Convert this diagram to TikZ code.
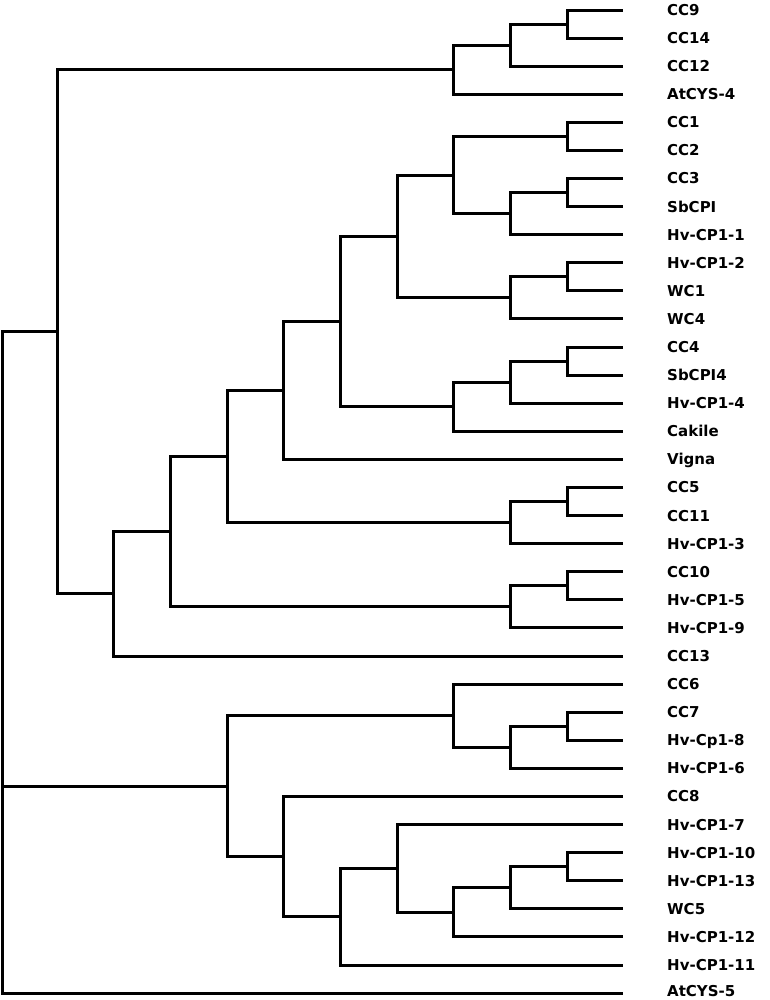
\documentclass[tikz,border=0pt]{standalone}
\usepackage{fontspec}
\setmainfont{DejaVu Sans}
\begin{document}
\begin{tikzpicture}[x=1pt,y=-28.09pt,
  branch/.style={line width=3pt,black},
  lab/.style={anchor=base west,inner sep=0pt,font=\fontsize{15}{17}\selectfont\bfseries,yshift=-5.4pt}]
\useasboundingbox (0,-0.356) rectangle (770,35.244);
% leaves
\foreach \i/\t in {0/CC9,1/CC14,2/CC12,3/AtCYS-4,4/CC1,5/CC2,6/CC3,7/SbCPI,8/Hv-CP1-1,
  9/Hv-CP1-2,10/WC1,11/WC4,12/CC4,13/SbCPI4,14/Hv-CP1-4,15/Cakile,16/Vigna,17/CC5,18/CC11,
  19/Hv-CP1-3,20/CC10,21/Hv-CP1-5,22/Hv-CP1-9,23/CC13,24/CC6,25/CC7,26/Hv-Cp1-8,27/Hv-CP1-6,
  28/CC8,29/Hv-CP1-7,30/Hv-CP1-10,31/Hv-CP1-13,32/WC5,33/Hv-CP1-12,34/Hv-CP1-11}{
  \coordinate (l\i) at (623,\i);
  \node[lab] (t\i) at (667,\i) {\t};
}
\coordinate (l35) at (623,35);
\node[lab,yshift=2.2pt] (t35) at (667,35) {AtCYS-5};
% internal nodes
\coordinate (a567) at (567,0.5);
\coordinate (a510) at (510,1.25);
\coordinate (a453) at (453,2.125);
\coordinate (b567) at (567,4.5);
\coordinate (c567) at (567,6.5);
\coordinate (c510) at (510,7.25);
\coordinate (b453) at (453,5.875);
\coordinate (d567) at (567,9.5);
\coordinate (d510) at (510,10.25);
\coordinate (e397) at (397,8.0625);
\coordinate (f567) at (567,12.5);
\coordinate (f510) at (510,13.25);
\coordinate (f453) at (453,14.125);
\coordinate (g340) at (340,11.09375);
\coordinate (h283) at (283,13.546875);
\coordinate (i567) at (567,17.5);
\coordinate (i510) at (510,18.25);
\coordinate (j227) at (227,15.8984);
\coordinate (k567) at (567,20.5);
\coordinate (k510) at (510,21.25);
\coordinate (m170) at (170,18.574);
\coordinate (n113) at (113,20.787);
\coordinate (p57) at (57,11.456);
\coordinate (q567) at (567,25.5);
\coordinate (q510) at (510,26.25);
\coordinate (q453) at (453,25.125);
\coordinate (r567) at (567,30.5);
\coordinate (r510) at (510,31.25);
\coordinate (r453) at (453,32.125);
\coordinate (r397) at (397,30.5625);
\coordinate (r340) at (340,32.28);
\coordinate (s283) at (283,30.14);
\coordinate (t227) at (227,27.63);
\coordinate (root) at (2.5,23.2);
% branches
\foreach \p/\c in {a567/l0,a567/l1,a510/a567,a510/l2,a453/a510,a453/l3,
  b567/l4,b567/l5,c567/l6,c567/l7,c510/c567,c510/l8,b453/b567,b453/c510,
  d567/l9,d567/l10,d510/d567,d510/l11,e397/b453,e397/d510,
  f567/l12,f567/l13,f510/f567,f510/l14,f453/f510,f453/l15,
  g340/e397,g340/f453,h283/g340,h283/l16,
  i567/l17,i567/l18,i510/i567,i510/l19,j227/h283,j227/i510,
  k567/l20,k567/l21,k510/k567,k510/l22,m170/j227,m170/k510,
  n113/m170,n113/l23,p57/a453,p57/n113,
  q567/l25,q567/l26,q510/q567,q510/l27,q453/l24,q453/q510,
  r567/l30,r567/l31,r510/r567,r510/l32,r453/r510,r453/l33,
  r397/l29,r397/r453,r340/r397,r340/l34,s283/l28,s283/r340,
  t227/q453,t227/s283,root/p57,root/t227,root/l35}{
  \draw[branch] (\p) |- (\c);
}
\end{tikzpicture}
\end{document}
